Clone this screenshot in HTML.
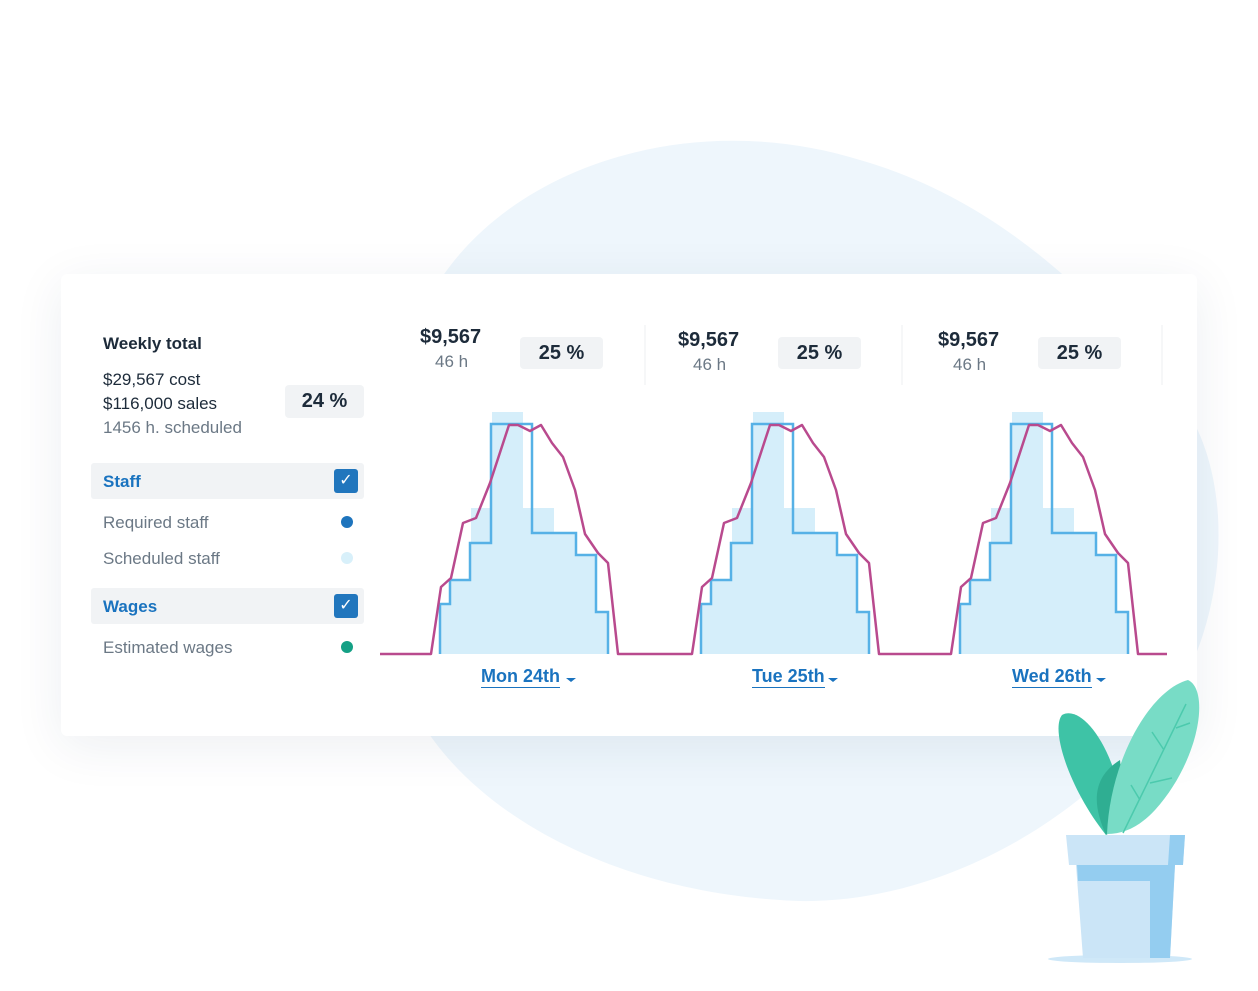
<!DOCTYPE html>
<html><head><style>
body{margin:0;width:1258px;height:991px;background:#fff;position:relative;overflow:hidden;font-family:"Liberation Sans",sans-serif;color:#1d2b3a}
.card{position:absolute;left:61px;top:274px;width:1136px;height:462px;background:#fff;border-radius:6px;box-shadow:0 10px 50px rgba(20,50,90,.08)}
.t{position:absolute;white-space:nowrap}
.pill{position:absolute;background:#f1f3f5;border-radius:4px;font-weight:bold;font-size:20px;text-align:center}
.row{position:absolute;left:91px;width:273px;height:36px;background:#f1f3f5;border-radius:3px}
.chk{position:absolute;right:6px;top:6px;width:24px;height:24px;background:#2176bd;border-radius:3px;color:#fff;font-size:16px;text-align:center;line-height:24px}
.g{color:#6b7885}
.lnk{color:#1a73bf;font-weight:bold;font-size:18px;border-bottom:1px solid #1a73bf}
</style></head><body>
<svg style="position:absolute;left:0;top:0" width="1258" height="991">
<path d="M440 280 C520 160 700 110 860 160 C1000 200 1100 300 1180 400 C1240 480 1230 640 1150 730 C1050 850 900 910 780 900 C620 890 480 820 420 720 C360 600 370 380 440 280Z" fill="#eef6fc"/>
</svg>
<div class="card"></div>
<div class="t" style="left:103px;top:334px;font-weight:bold;font-size:17px">Weekly total</div>
<div class="t" style="left:103px;top:370px;font-size:17px">$29,567 cost</div>
<div class="t" style="left:103px;top:394px;font-size:17px">$116,000 sales</div>
<div class="t g" style="left:103px;top:418px;font-size:17px">1456 h. scheduled</div>
<div class="pill" style="left:285px;top:385px;width:79px;height:33px;line-height:33px">24 %</div>
<div class="row" style="top:463px"><span class="t" style="left:12px;top:9px;color:#1a73bf;font-weight:bold;font-size:17px">Staff</span><div class="chk">✓</div></div>
<div class="t g" style="left:103px;top:513px;font-size:17px">Required staff</div>
<div class="t g" style="left:103px;top:549px;font-size:17px">Scheduled staff</div>
<div class="row" style="top:588px"><span class="t" style="left:12px;top:9px;color:#1a73bf;font-weight:bold;font-size:17px">Wages</span><div class="chk">✓</div></div>
<div class="t g" style="left:103px;top:638px;font-size:17px">Estimated wages</div>
<svg style="position:absolute;left:0;top:0" width="1258" height="991">
<circle cx="347" cy="522" r="6" fill="#1e74bd"/>
<circle cx="347" cy="558" r="6" fill="#d8f0fa"/>
<circle cx="347" cy="647" r="6" fill="#14a085"/>
<line x1="645" y1="325" x2="645" y2="385" stroke="#eceff2"/>
<line x1="902" y1="325" x2="902" y2="385" stroke="#eceff2"/>
<line x1="1162" y1="325" x2="1162" y2="385" stroke="#eceff2"/>
<defs><g id="day">
<path d="M440 654V604H450V580H470V543H471V508H492V412H523V508H554V533H576V555H596V612H608V654Z" fill="#d5eefa"/>
<path d="M440 654V604H450V580H470V543H491V424H532V533H576V555H596V612H608V654" fill="none" stroke="#56b1e6" stroke-width="2.5"/>
</g></defs>
<use href="#day"/><use href="#day" x="261"/><use href="#day" x="520"/>
<polyline fill="none" stroke="#b94a8e" stroke-width="2.5" stroke-linejoin="round" points="
380,654 431,654 441,587 451,578 463,523 476,518 490,483 509,425 518,425 530,431 541,425 552,443 563,457 575,490 585,534 598,553 608,563 618,654
692,654 702,587 712,578 724,523 737,518 751,483 770,425 779,425 791,431 802,425 813,443 824,457 836,490 846,534 859,553 869,563 879,654
951,654 961,587 971,578 983,523 996,518 1010,483 1029,425 1038,425 1050,431 1061,425 1072,443 1083,457 1095,490 1105,534 1118,553 1128,563 1138,654 1167,654"/>
<path d="M566 678h10l-5 4z" fill="#1a73bf"/><path d="M828 678h10l-5 4z" fill="#1a73bf"/><path d="M1096 678h10l-5 4z" fill="#1a73bf"/>
<!-- plant -->
<ellipse cx="1120" cy="959" rx="72" ry="4" fill="#cfe8f8"/>
<path d="M1066 835H1185L1183 865H1069Z" fill="#cbe5f7"/>
<path d="M1170 835H1185L1183 865H1168Z" fill="#94cdf0"/>
<path d="M1076 865H1175L1170 958H1083Z" fill="#cbe5f7"/>
<path d="M1077 865H1175L1170 958H1150V881H1078Z" fill="#94cdf0"/>
<path d="M1106 835C1070 790 1050 730 1062 715C1080 705 1110 740 1122 800C1124 815 1117 830 1106 835Z" fill="#3ec3a6"/>
<path d="M1106 835C1095 810 1088 780 1120 760C1124 790 1118 820 1106 835Z" fill="#2fae92"/>
<path d="M1107 834C1110 760 1150 690 1188 680C1210 690 1200 760 1155 810C1140 826 1125 834 1107 834Z" fill="#78dcc6"/>
<path d="M1123 833L1186 704M1150 783L1172 778M1140 800L1131 785M1164 750L1152 732M1176 728L1190 723" stroke="#4ccaad" stroke-width="1.5" fill="none"/>
</svg>
<div class="t" style="left:420px;top:326px;font-size:20px;font-weight:bold">$9,567</div>
<div class="t g" style="left:435px;top:352px;font-size:17px">46 h</div>
<div class="pill" style="left:520px;top:337px;width:83px;height:32px;line-height:32px">25 %</div>
<div class="t" style="left:678px;top:329px;font-size:20px;font-weight:bold">$9,567</div>
<div class="t g" style="left:693px;top:355px;font-size:17px">46 h</div>
<div class="pill" style="left:778px;top:337px;width:83px;height:32px;line-height:32px">25 %</div>
<div class="t" style="left:938px;top:329px;font-size:20px;font-weight:bold">$9,567</div>
<div class="t g" style="left:953px;top:355px;font-size:17px">46 h</div>
<div class="pill" style="left:1038px;top:337px;width:83px;height:32px;line-height:32px">25 %</div>
<div class="t lnk" style="left:481px;top:666px">Mon 24th</div>
<div class="t lnk" style="left:752px;top:666px">Tue 25th</div>
<div class="t lnk" style="left:1012px;top:666px">Wed 26th</div>
</body></html>
